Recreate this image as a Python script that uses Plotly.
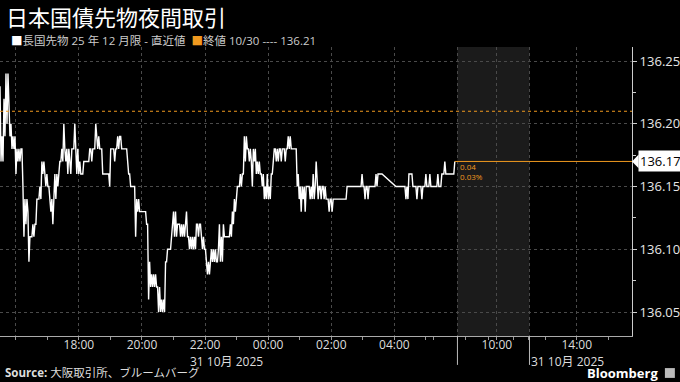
import pandas as pd
import plotly.graph_objects as go

TITLE = "日本国債先物夜間取引"
SERIES_NAME = "長国先物 25 年 12 月限 - 直近値"
PREV_CLOSE_LABEL = "終値 10/30 ---- 136.21"
PREV_CLOSE = 136.21
LAST_VALUE = 136.17
CHANGE_TEXT = ["0.04", "0.03%"]
SOURCE = "大阪取引所、ブルームバーグ"

SESSION_START = "2025-10-30 15:30"
LAST_BAR = "2025-10-31 05:55"
AXIS_END = "2025-10-31 15:45"
BREAKS = [["2025-10-31 06:00", "2025-10-31 08:45"], ["2025-10-31 11:02", "2025-10-31 12:30"]]
MORNING_SESSION = ["2025-10-31 08:45", "2025-10-31 11:02"]

# night-session prices (roughly 2-minute bars); None = no trade
PRICES = [
    136.23, 136.17, 136.19, 136.17, 136.22, 136.19, 136.24, 136.20, 136.24, 136.20,
    136.19, 136.20, 136.18, 136.19, 136.18, 136.19, 136.16, 136.18, 136.17, 136.18,
    136.17, 136.18, 136.18, 136.15, 136.11, 136.14, 136.12, 136.14, 136.13, 136.09,
    136.11, 136.11, 136.11, 136.12, 136.11, 136.12, 136.12, 136.14, 136.14, 136.14,
    136.15, 136.14, 136.17, 136.16, 136.17, 136.16, 136.15, 136.16, 136.15, 136.15,
    136.14, 136.13, 136.14, 136.12, 136.14, 136.16, 136.14, 136.16, 136.15, 136.16,
    136.17, 136.17, 136.18, 136.17, 136.20, 136.18, 136.17, 136.18, 136.16, 136.18,
    136.17, 136.16, 136.18, 136.18, 136.18, 136.20, 136.18, 136.16, 136.18, 136.16,
    136.17, 136.16, 136.16, 136.16, 136.17, 136.17, 136.17, 136.17, 136.17, 136.17,
    136.18, 136.18, 136.17, 136.18, 136.18, 136.18, 136.20, 136.19, 136.18, 136.19,
    136.18, 136.18, 136.18, 136.16, 136.16, 136.16, 136.16, 136.16, 136.16, 136.16,
    136.15, 136.18, 136.18, 136.18, 136.18, 136.17, 136.18, 136.18, 136.19, 136.18,
    136.19, 136.19, 136.18, 136.18, 136.18, 136.18, 136.18, 136.18, 136.17, 136.16,
    136.16, 136.15, 136.15, 136.15, 136.15, 136.15, 136.11, 136.14, 136.13, 136.14,
    136.13, 136.13, 136.13, 136.13, 136.13, 136.13, 136.13, 136.12, 136.12, 136.06,
    136.09, 136.07, 136.08, 136.07, 136.08, 136.07, 136.08, 136.07, 136.07, 136.05,
    136.07, 136.05, 136.06, 136.05, 136.06, 136.05, 136.09, 136.09, 136.10, 136.10,
    136.10, 136.10, 136.11, 136.12, 136.13, 136.11, 136.13, 136.11, 136.12, 136.12,
    136.12, 136.11, 136.12, 136.11, 136.12, 136.11, 136.12, 136.13, 136.11, 136.11,
    136.10, 136.11, 136.10, 136.11, 136.10, 136.11, 136.10, 136.12, 136.12, 136.11,
    136.12, 136.12, 136.11, 136.10, 136.11, 136.10, 136.10, 136.09, 136.08, 136.09,
    136.08, 136.09, 136.10, 136.09, 136.10, 136.09, 136.10, 136.09, 136.09, 136.10,
    136.12, 136.09, 136.11, 136.09, 136.12, 136.11, 136.11, 136.11, 136.11, 136.11,
    136.11, 136.12, 136.11, 136.13, 136.12, 136.14, 136.13, 136.14, 136.15, 136.15,
    136.15, 136.16, 136.15, 136.16, 136.16, 136.19, 136.17, 136.19, 136.18, 136.18,
    136.17, 136.18, 136.17, 136.15, 136.18, 136.17, 136.18, 136.16, 136.17, 136.16,
    136.17, 136.16, 136.16, 136.15, 136.16, 136.14, 136.15, 136.14, 136.16, 136.14,
    136.15, 136.14, 136.16, 136.16, 136.17, 136.18, 136.18, 136.17, 136.18, 136.17,
    136.18, 136.18, 136.17, 136.18, 136.18, 136.18, 136.17, 136.18, 136.18, 136.19,
    136.18, 136.19, 136.18, 136.18, 136.18, 136.18, 136.18, 136.18, 136.15, 136.16,
    136.14, 136.15, 136.13, 136.15, 136.14, 136.15, 136.13, 136.15, 136.15, 136.15,
    136.15, 136.14, 136.15, 136.14, 136.16, 136.14, 136.15, 136.17, 136.15, 136.14,
    136.15, 136.15, 136.14, 136.15, 136.15, 136.14, 136.15, 136.14, 136.14, 136.14,
    136.13, 136.14, 136.14, 136.13, 136.14, 136.14, 136.14, 136.14, 136.14, 136.14,
    136.14, 136.14, 136.14, 136.14, 136.14, 136.14, 136.14, 136.14, 136.15, 136.15,
    136.15, 136.15, 136.15, 136.15, 136.15, 136.15, 136.15, 136.15, 136.15, 136.15,
    136.15, 136.15, 136.15, 136.16, 136.15, 136.15, 136.14, 136.15, 136.15, 136.14,
    136.15, 136.15, 136.15, 136.15, 136.15, 136.15, 136.15, 136.16, 136.15, 136.16,
    136.16, 136.16, 136.16, 136.16, None, None, None, None, None, None,
    None, None, None, None, None, None, None, 136.15, 136.15, 136.15,
    136.15, 136.15, 136.15, 136.15, 136.15, 136.15, 136.15, 136.14, 136.15, 136.14,
    136.16, 136.16, 136.16, 136.16, 136.15, 136.15, 136.15, 136.15, 136.14, 136.15,
    136.15, 136.15, 136.15, 136.14, 136.15, 136.15, 136.15, 136.16, 136.15, 136.15,
    136.15, 136.16, 136.15, 136.15, 136.15, 136.15, 136.15, 136.15, 136.15, 136.16,
    136.15, 136.15, 136.15, 136.16, 136.16, 136.16, 136.17, 136.16, 136.16, 136.16,
    136.16, 136.16, 136.16, 136.16, 136.16, 136.16, 136.17,
]
TIMES = pd.date_range(SESSION_START, LAST_BAR, periods=len(PRICES))

X_TICKS = ["2025-10-30 16:00", "2025-10-30 18:00", "2025-10-30 20:00", "2025-10-30 22:00",
           "2025-10-31 00:00", "2025-10-31 02:00", "2025-10-31 04:00", "2025-10-31 08:45",
           "2025-10-31 10:00", "2025-10-31 12:30", "2025-10-31 14:00"]
X_LABELS = ["", "18:00", "20:00", "22:00", "00:00", "02:00", "04:00", "", "10:00", "", "14:00"]
DATE_LABEL = "31 10月 2025"
Y_TICKS = [136.05, 136.10, 136.15, 136.20, 136.25]
Y_RANGE = [136.0309, 136.2612]

ORANGE = "#f0991f"
GRID = "#4a4a4a"
FONT = "Open Sans, Noto Sans CJK JP"

fig = go.Figure()
fig.add_trace(go.Scatter(x=TIMES, y=PRICES, mode="lines", connectgaps=True,
                         line=dict(color="white", width=1.4), hoverinfo="skip",
                         showlegend=False))

fig.update_layout(
    width=680, height=382,
    margin=dict(l=0, r=46, t=47, b=46),
    paper_bgcolor="black", plot_bgcolor="black",
    font=dict(family=FONT, color="#dddddd"),
    showlegend=False,
    xaxis=dict(
        type="date", range=[SESSION_START, AXIS_END],
        rangebreaks=[dict(bounds=b) for b in BREAKS],
        tickmode="array", tickvals=X_TICKS, ticktext=X_LABELS,
        showgrid=True, gridcolor=GRID, griddash="dot", gridwidth=1,
        ticks="outside", ticklen=3, tickcolor="#999999",
        ticklabelstandoff=-5,
        minor=dict(dtick=3600000, ticks="outside", ticklen=3, tickcolor="#999999", showgrid=False),
        showline=True, linecolor="#aaaaaa", linewidth=1,
        tickfont=dict(size=12, color="#dddddd"),
        zeroline=False,
    ),
    yaxis=dict(
        side="right", range=Y_RANGE, tickmode="array", tickvals=Y_TICKS,
        ticktext=[f"{v:.2f}" for v in Y_TICKS],
        showgrid=True, gridcolor=GRID, griddash="dot", gridwidth=1,
        ticks="outside", ticklen=4, tickcolor="#cccccc",
        minor=dict(dtick=0.025, tick0=136.0, ticks="outside", ticklen=3, tickcolor="#cccccc", showgrid=False),
        showline=True, linecolor="#cccccc", linewidth=1,
        tickfont=dict(size=13, color="#e6e6e6"),
        zeroline=False,
    ),
)

# morning-session shading
fig.add_shape(type="rect", xref="x", yref="paper", x0=MORNING_SESSION[0], x1=MORNING_SESSION[1],
              y0=0, y1=1, fillcolor="#1b1b1b", line=dict(width=0), layer="below")
# session separators below the axis
for xs in ["2025-10-31 08:45", "2025-10-31 12:30"]:
    fig.add_shape(type="line", xref="x", yref="paper", x0=xs, x1=xs, y0=-0.1, y1=0,
                  line=dict(color="#bbbbbb", width=1))
# previous close dotted line
fig.add_shape(type="line", xref="paper", yref="y", x0=0, x1=1, y0=PREV_CLOSE, y1=PREV_CLOSE,
              line=dict(color=ORANGE, width=1, dash="dot"))
# last value line
fig.add_shape(type="line", xref="x", yref="y", x0=TIMES[-1], x1=AXIS_END, y0=LAST_VALUE, y1=LAST_VALUE,
              line=dict(color=ORANGE, width=1))
# last value pointer
fig.add_shape(type="path", xref="paper", yref="y",
              path=f"M 1.0,{LAST_VALUE} L 1.0105,{LAST_VALUE + 0.0055} L 1.0105,{LAST_VALUE - 0.0055} Z",
              fillcolor="white", line=dict(width=0))
fig.add_annotation(xref="paper", yref="y", x=1, xshift=6, y=LAST_VALUE, xanchor="left", yanchor="middle",
                   text=f"{LAST_VALUE:.2f}", showarrow=False, bgcolor="white", borderpad=1,
                   font=dict(size=13, color="black", family=FONT))
# change text
for txt, yv in zip(CHANGE_TEXT, [136.1663, 136.1584]):
    fig.add_annotation(xref="paper", yref="y", x=459 / 634, y=yv, xanchor="left", yanchor="middle",
                       text=txt, showarrow=False, font=dict(size=8, color=ORANGE, family=FONT))

# title & legend
fig.add_annotation(xref="paper", yref="paper", x=4 / 634, y=1.107, xanchor="left", yanchor="middle",
                   text=TITLE, showarrow=False,
                   font=dict(size=22, color="white", family="Noto Sans CJK JP"))
fig.add_annotation(xref="paper", yref="paper", x=9 / 634, y=1.024, xanchor="left", yanchor="middle",
                   text=(f"<span style='color:white'>■</span>{SERIES_NAME}  "
                         f"<span style='color:{ORANGE}'>■</span>{PREV_CLOSE_LABEL}"),
                   showarrow=False, font=dict(size=11.5, color="#cccccc", family=FONT))

# date labels under the axis
fig.add_annotation(xref="x", yref="paper", x="2025-10-31 00:00", xshift=-3, y=-0.087,
                   xanchor="right", yanchor="middle", text=DATE_LABEL, showarrow=False,
                   font=dict(size=12, color="#dddddd", family=FONT))
fig.add_annotation(xref="x", yref="paper", x="2025-10-31 12:30", xshift=0, y=-0.087,
                   xanchor="left", yanchor="middle", text=DATE_LABEL, showarrow=False,
                   font=dict(size=12, color="#dddddd", family=FONT))

# footer
fig.add_annotation(xref="paper", yref="paper", x=3 / 634, y=-0.128, xanchor="left", yanchor="middle",
                   text=f"<b>Source:</b> {SOURCE}", showarrow=False,
                   font=dict(size=11.5, color="#dddddd", family=FONT))
fig.add_annotation(xref="paper", yref="paper", x=662 / 634, y=-0.128, xanchor="right", yanchor="middle",
                   text="<b>Bloomberg</b>", showarrow=False,
                   font=dict(size=13, color="white", family=FONT))
fig.add_shape(type="rect", xref="paper", yref="paper", x0=667 / 634, x1=677 / 634, y0=-0.145, y1=-0.111,
              fillcolor="#bbbbbb", line=dict(width=0))

fig.write_html("out.html")
